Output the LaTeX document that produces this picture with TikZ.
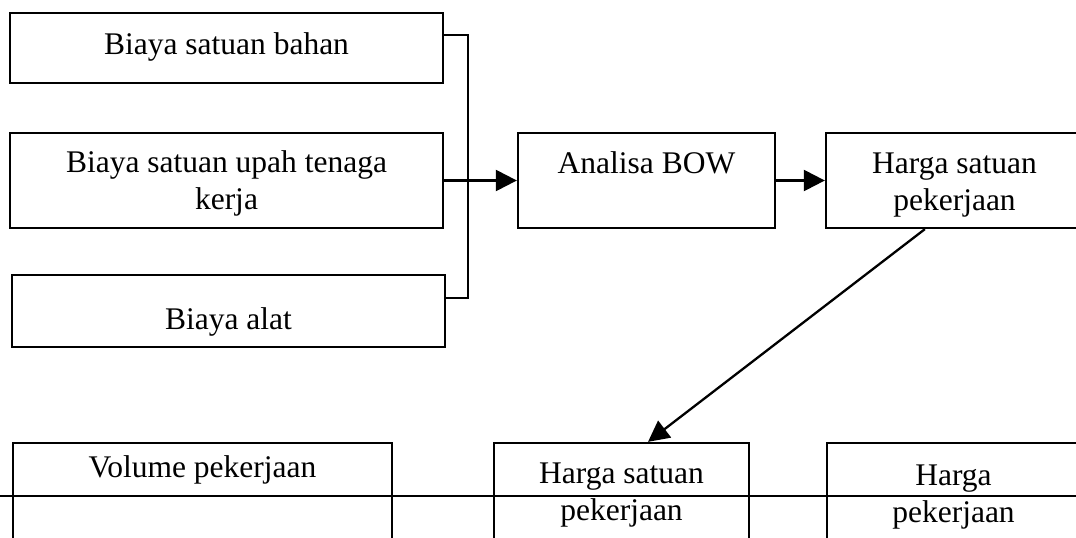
\documentclass[tikz,border=0pt]{standalone}
\usepackage{fontspec}
\setmainfont{Liberation Serif}
\usetikzlibrary{arrows.meta,calc}
\begin{document}
\begin{tikzpicture}[x=1pt,y=-1pt,
  box/.style={draw=black,line width=2.3pt,rectangle,inner sep=0pt},
  txt/.style={inner sep=0pt,anchor=base,align=center,
    font=\fontsize{31.5pt}{37pt}\selectfont},
  conn/.style={draw=black,line width=2.3pt},
  arr/.style={conn,-{Triangle[length=21pt,width=21pt]}}]
\useasboundingbox (0,0) rectangle (1076,538);
\fill[white] (0,0) rectangle (1076,538);
\clip (0,0) rectangle (1076,538);
% boxes
\node[box,minimum width=433pt,minimum height=70pt] (b1) at (226.5,48) {};
\node[box,minimum width=433pt,minimum height=95pt] (b2) at (226.5,180.5) {};
\node[box,minimum width=433pt,minimum height=72pt] (b3) at (228.5,311) {};
\node[box,minimum width=257pt,minimum height=95pt] (ana) at (646.5,180.5) {};
\node[box,minimum width=257pt,minimum height=95pt] (hs1) at (954.5,180.5) {};
\node[box,minimum width=379pt,minimum height=117pt] (vol) at (202.5,501.5) {};
\node[box,minimum width=255pt,minimum height=117pt] (hs2) at (621.5,501.5) {};
\node[box,minimum width=253pt,minimum height=117pt] (hp) at (953.5,501.5) {};
% texts (base anchor = baseline of the last line)
\node[txt] (t1) at (226.5,54) {Biaya satuan bahan};
\node[txt] (t2) at (226.5,209) {Biaya satuan upah tenaga\\kerja};
\node[txt] (t3) at (228.5,329) {Biaya alat};
\node[txt] (ta) at (646.5,173) {Analisa BOW};
\node[txt] (th1) at (954.5,210) {Harga satuan\\pekerjaan};
\node[txt] (tv) at (202.5,477) {Volume pekerjaan};
\node[txt] (th2) at (621.5,520) {Harga satuan\\pekerjaan};
\node[txt] (thp) at (953.5,522) {Harga\\pekerjaan};
% bracket
\coordinate (j1) at (468,35);
\coordinate (j3) at (468,298);
\draw[conn] (b1.east |- j1) -- (j1) -- (j3) -- (b3.east |- j3);
\draw[arr] (b2.east) -- (ana.west);
\draw[arr] (ana.east) -- (hs1.west);
\draw[arr] ($(hs1.south west)+(100,0)$) -- ($(hs2.north)+(26.5,0)$);
% horizontal line
\coordinate (hl) at (0,496);
\coordinate (hr) at (1076,496);
\draw[line width=1.6pt] (hl) -- (hr);
\end{tikzpicture}
\end{document}
